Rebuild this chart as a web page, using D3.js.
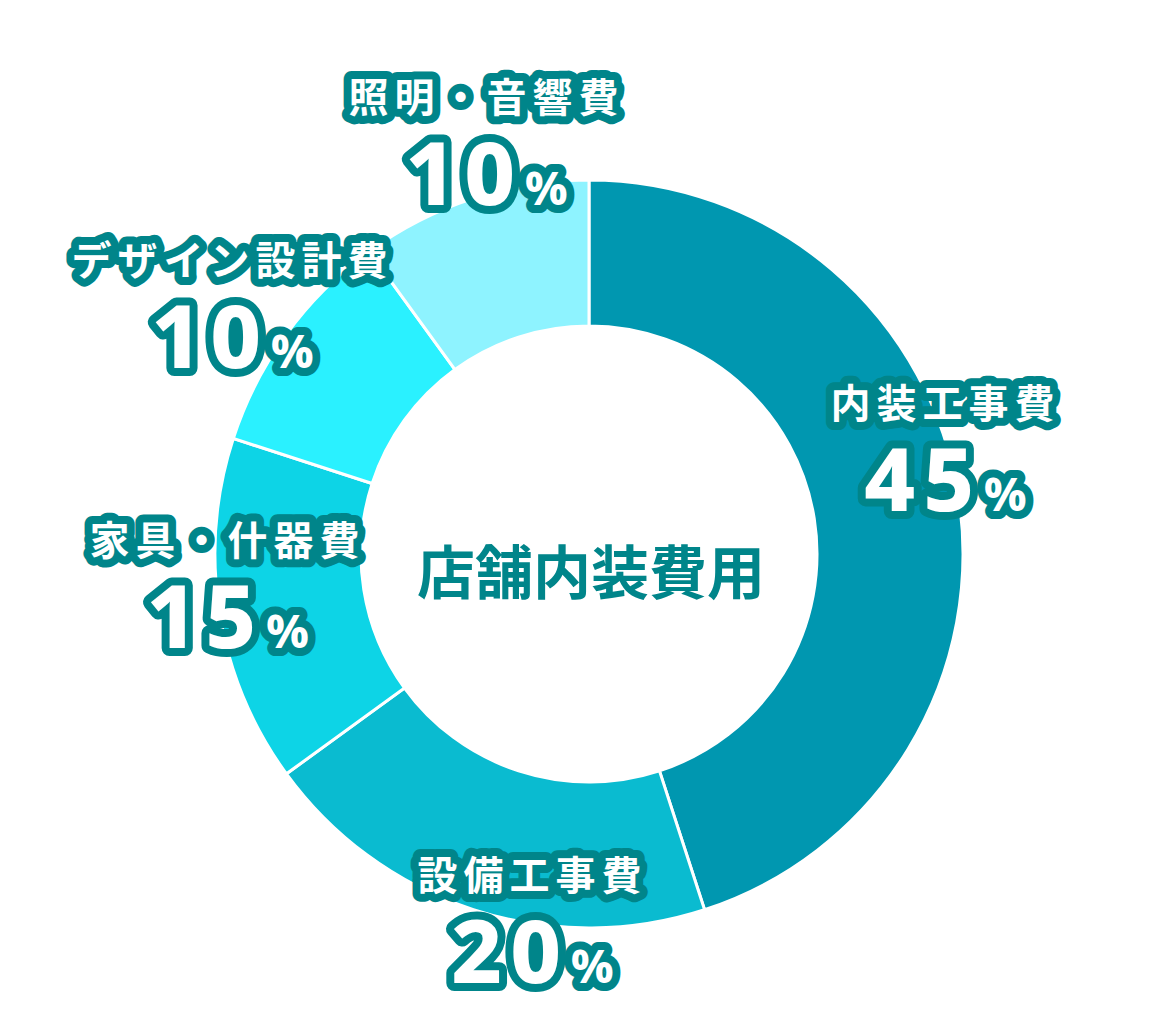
<!DOCTYPE html>
<html>
  <head>
    <meta charset="utf-8">
    <script src="https://d3js.org/d3.v7.min.js"></script>
    <style>
      body { margin: 0; background: #fff; }
      text { font-family: "Noto Sans CJK JP", "Noto Sans", sans-serif; font-weight: 700; }
    </style>
  </head>
  <body>
    <div id="graph"></div>
    <script>

var categories = ["内装工事費", "設備工事費", "家具・什器費", "デザイン設計費", "照明・音響費"];
var values = [45, 20, 15, 10, 10];
var colors = ["#0097b0", "#0abbd0", "#0dd4e6", "#2af1ff", "#8ef3ff"];
var title = "店舗内装費用";

// label offsets from the outer edge at each slice's mid angle
var labelOffsets = [[-13, -94], [59, -37], [8, -75], [-54, -76], [13, -103]];

var w = 1167;
var h = 1031;
var cx = 589, cy = 554;
var outerR = 374, innerR = 228;
var outline = "#00858a";

var svg = d3.select("#graph")
  .append("svg")
  .attr("width", w)
  .attr("height", h);

var g = svg.append("g")
  .attr("transform", "translate(" + cx + "," + cy + ")");

var pie = d3.pie()
  .sort(null)
  .value(function(d) { return d; });

var arcs = pie(values);

var arc = d3.arc()
  .innerRadius(innerR)
  .outerRadius(outerR);

//Create slices
g.selectAll("path")
  .data(arcs)
  .enter()
  .append("path")
  .attr("d", arc)
  .attr("fill", function(d, i) { return colors[i]; })
  .attr("stroke", "#fff")
  .attr("stroke-width", 3);

//Centre title
g.append("text")
  .attr("x", 2)
  .attr("y", 15)
  .attr("text-anchor", "middle")
  .attr("dominant-baseline", "central")
  .attr("font-size", "58px")
  .attr("fill", outline)
  .text(title);

//Labels
var labels = g.selectAll("g.label")
  .data(arcs)
  .enter()
  .append("g")
  .attr("class", "label")
  .attr("transform", function(d, i) {
    var a = (d.startAngle + d.endAngle) / 2;
    var x = Math.sin(a) * outerR + labelOffsets[i][0];
    var y = -Math.cos(a) * outerR + labelOffsets[i][1];
    return "translate(" + x + "," + y + ")";
  });

labels.append("text")
  .attr("text-anchor", "middle")
  .attr("dominant-baseline", "central")
  .attr("font-size", "40px")
  .attr("letter-spacing", "6px")
  .attr("fill", "#fff")
  .attr("stroke", outline)
  .attr("stroke-width", 16)
  .attr("stroke-linejoin", "round")
  .attr("paint-order", "stroke")
  .text(function(d, i) { return categories[i]; });

var num = labels.append("text")
  .attr("text-anchor", "middle")
  .attr("y", 110)
  .attr("fill", "#fff")
  .attr("stroke", outline)
  .attr("stroke-width", 16)
  .attr("stroke-linejoin", "round")
  .attr("paint-order", "stroke")
  .style("font-family", "'Noto Sans', sans-serif")
  .style("font-weight", 800);

num.append("tspan")
  .attr("font-size", "88px")
  .attr("letter-spacing", "8px")
  .text(function(d) { return d.data; });

num.append("tspan")
  .attr("font-size", "46px")
  .attr("dx", 2)
  .text("%");

    </script>
  </body>
</html>
